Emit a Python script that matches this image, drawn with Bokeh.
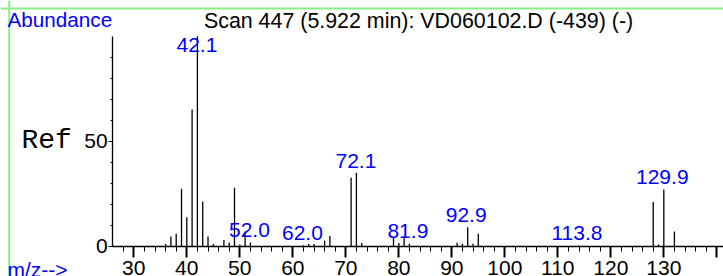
from bokeh.plotting import figure
from bokeh.models import Range1d, FixedTicker, ColumnDataSource, LinearAxis, Label, Span
from bokeh.core.properties import value
from bokeh.embed import file_html
from bokeh.resources import INLINE

# ---- data ----
mz = [36, 37, 38, 39, 40, 41, 42, 43, 44, 45, 47, 48, 49, 50, 51, 52,
      62, 63, 64, 66, 67, 71, 72, 73, 79, 80, 81, 82,
      91, 92, 93, 94, 95, 114, 128, 129, 130, 132]
abundance = [1.1, 4.6, 5.9, 27.3, 13.8, 65.1, 100.0, 21.3, 4.6, 1.1, 3.0, 1.8, 27.8, 0.8, 7.0, 1.8,
             0.4, 1.1, 1.0, 2.7, 4.8, 32.6, 35.0, 1.5, 4.5, 1.5, 4.8, 1.2,
             1.6, 1.2, 9.0, 1.2, 5.9, 0.3, 21.0, 0.8, 27.0, 7.0]

label_mz = [42.1, 52.0, 62.0, 72.1, 81.9, 92.9, 113.8, 129.9]
label_text = ["42.1", "52.0", "62.0", "72.1", "81.9", "92.9", "113.8", "129.9"]

x_ticks = [30, 40, 50, 60, 70, 80, 90, 100, 110, 120, 130, 140]
x_tick_labels = ["30", "40", "50", "60", "70", "80", "90", "100", "110", "120", "130", ""]
x_minor_ticks = list(range(28, 142, 2))
y_ticks = [0, 50]
y_tick_labels = ["0", "50"]
y_minor_ticks = [10, 20, 30, 40, 60, 70, 80, 90]

title_text = "Scan 447 (5.922 min): VD060102.D (-439) (-)"
y_title = "Abundance"
x_title = "m/z-->"
ref_text = "Ref"

# ---- figure ----
FONT = "Liberation Sans"
BLUE = "#0000ff"
GREEN = "#88ee88"
XS, X0, X1 = 4.85, 26.0, 141.26
YS, Y1 = -14.43, 117.0
DY = 3.8  # text baseline correction (data units)

p = figure(width=723, height=276, x_range=Range1d(XS, X1), y_range=Range1d(YS, Y1),
           output_backend="svg", toolbar_location=None, min_border=0,
           x_axis_location=None, y_axis_location=None)
p.grid.visible = False
p.background_fill_color = "white"
p.border_fill_color = "white"
p.outline_line_color = None

# green frame lines (top and left)
p.add_layout(Span(location=113.2, dimension="width", line_color=GREEN, line_width=2))
p.add_layout(Span(location=6.5, dimension="height", line_color=GREEN, line_width=2))

src = ColumnDataSource(dict(x=mz, y=abundance, y0=[0] * len(mz)))
p.segment(x0="x", y0="y0", x1="x", y1="y", source=src, line_color="black", line_width=1.3)

# peak labels sit a little above their peak, capped below the title
lab_y = []
for m in label_mz:
    k = int(round(m))
    h = abundance[mz.index(k)] if k in mz else 0.0
    lab_y.append(min(h + 2.0, 92.0) + DY)
lsrc = ColumnDataSource(dict(x=label_mz, y=lab_y, t=label_text))
p.text(x="x", y="y", text="t", source=lsrc, text_align="center", text_baseline="alphabetic",
       text_color=BLUE, text_font=value(FONT), text_font_size="21px", x_offset=-1)

# axes
xaxis = LinearAxis(fixed_location=0, bounds=(X0, X1))
xaxis.ticker = FixedTicker(ticks=x_ticks, minor_ticks=x_minor_ticks)
xaxis.major_label_overrides = {t: l for t, l in zip(x_ticks, x_tick_labels)}
xaxis.major_tick_in = 0
xaxis.major_tick_out = 11
xaxis.minor_tick_in = 0
xaxis.minor_tick_out = 5
xaxis.major_tick_line_width = 2
xaxis.minor_tick_line_width = 1
xaxis.axis_line_width = 1.3
xaxis.axis_line_color = "black"
xaxis.major_tick_line_color = "black"
xaxis.minor_tick_line_color = "black"
xaxis.major_label_text_font = FONT
xaxis.major_label_text_font_size = "21px"
xaxis.major_label_text_color = "black"
xaxis.major_label_standoff = 4
p.add_layout(xaxis, "below")

yaxis = LinearAxis(fixed_location=X0, bounds=(0, 100))
yaxis.ticker = FixedTicker(ticks=y_ticks, minor_ticks=y_minor_ticks)
yaxis.major_label_overrides = {t: l for t, l in zip(y_ticks, y_tick_labels)}
yaxis.major_tick_in = 0
yaxis.major_tick_out = 4
yaxis.minor_tick_in = 0
yaxis.minor_tick_out = 2
yaxis.axis_line_width = 1.3
yaxis.axis_line_color = "black"
yaxis.major_tick_line_color = "black"
yaxis.minor_tick_line_color = "black"
yaxis.major_label_text_font = FONT
yaxis.major_label_text_font_size = "21px"
yaxis.major_label_text_color = "black"
yaxis.major_label_standoff = 1
p.add_layout(yaxis, "left")

# texts around the plot
p.add_layout(Label(x=83.72, y=103.2 + DY, text=title_text, text_align="center",
                   text_baseline="alphabetic", text_font=FONT, text_font_size="21.4px",
                   text_color="black"))
p.add_layout(Label(x=6.17, y=104.3 + DY, text=y_title, text_align="left", text_baseline="alphabetic",
                   text_font=FONT, text_font_size="20.7px", text_color=BLUE))
p.add_layout(Label(x=6.17, y=-14.9 + DY, text=x_title, text_align="left", text_baseline="alphabetic",
                   text_font=FONT, text_font_size="21px", text_color=BLUE))
p.add_layout(Label(x=8.81, y=46.6 + DY, text=ref_text, text_align="left", text_baseline="alphabetic",
                   text_font="Liberation Mono", text_font_size="28px", text_color="black"))

open("out.html", "w").write(file_html(p, INLINE))
